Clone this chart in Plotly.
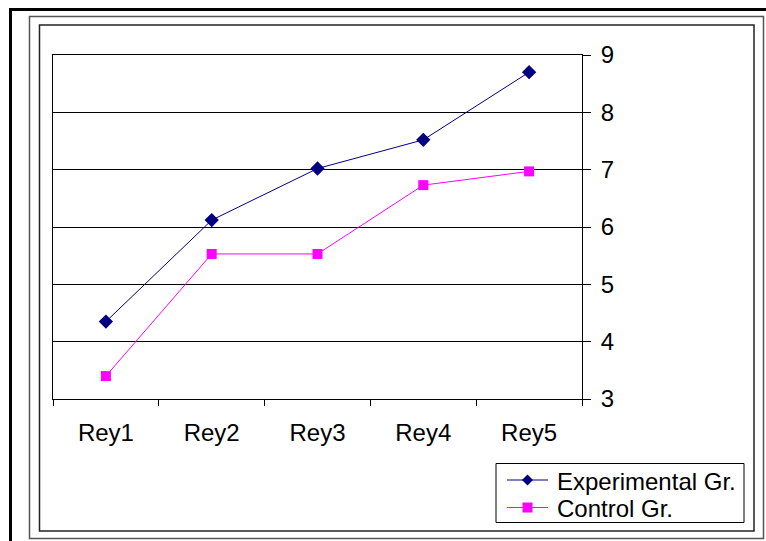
import plotly.graph_objects as go

# Scores per test round for the two groups
rounds = ["Rey1", "Rey2", "Rey3", "Rey4", "Rey5"]
experimental = [4.35, 6.12, 7.02, 7.52, 8.70]
control = [3.40, 5.53, 5.53, 6.73, 6.97]
y_ticks = [3, 4, 5, 6, 7, 8, 9]

W, H = 766, 541
L, R, T, B = 53, 582, 55, 399  # plot area in pixels


def px(x):
    return (x - L) / (R - L)


def py(y):
    return (B - y) / (B - T)


FONT = "Liberation Sans, Arial, sans-serif"
NAVY, MAGENTA = "#000080", "#FF00FF"

series = [
    dict(name="Experimental Gr.", y=experimental, color=NAVY, symbol="diamond", size=11),
    dict(name="Control Gr.", y=control, color=MAGENTA, symbol="square", size=10),
]

fig = go.Figure()
for s in series:
    fig.add_trace(go.Scatter(
        x=rounds, y=s["y"], name=s["name"],
        mode="lines+markers",
        line=dict(color=s["color"], width=1),
        marker=dict(symbol=s["symbol"], size=s["size"], color=s["color"]),
    ))

# Decorative frames around the chart
frames = [
    dict(x0=10.5, y0=9.5, x1=790, y1=560, color="black", width=3),
    dict(x0=29.5, y0=16.5, x1=763.5, y1=538.5, color="#555555", width=1.5),
    dict(x0=39.5, y0=25, x1=754, y1=531, color="#222222", width=1.5),
]
for f in frames:
    fig.add_shape(type="rect", xref="paper", yref="paper",
                  x0=px(f["x0"]), x1=px(f["x1"]), y0=py(f["y0"]), y1=py(f["y1"]),
                  line=dict(color=f["color"], width=f["width"]),
                  fillcolor="rgba(0,0,0,0)", layer="below")

# Legend box with a line sample, marker and label per series
fig.add_shape(type="rect", xref="paper", yref="paper",
              x0=px(496), x1=px(744), y0=py(463.5), y1=py(522.5),
              line=dict(color="black", width=1), fillcolor="white")
row_y = [480, 507.5]
for s, ry in zip(series, row_y):
    fig.add_shape(type="line", xref="paper", yref="paper",
                  x0=px(507), x1=px(548), y0=py(ry), y1=py(ry),
                  line=dict(color=s["color"], width=1))
    cx = 527.5
    if s["symbol"] == "diamond":
        h = 5.5
        path = (f"M {px(cx)} {py(ry - h)} L {px(cx + h)} {py(ry)} "
                f"L {px(cx)} {py(ry + h)} L {px(cx - h)} {py(ry)} Z")
    else:
        h = 5
        path = (f"M {px(cx - h)} {py(ry - h)} L {px(cx + h)} {py(ry - h)} "
                f"L {px(cx + h)} {py(ry + h)} L {px(cx - h)} {py(ry + h)} Z")
    fig.add_shape(type="path", xref="paper", yref="paper", path=path,
                  line=dict(color=s["color"], width=0), fillcolor=s["color"])
    fig.add_annotation(xref="paper", yref="paper", x=px(555), y=py(ry + 1),
                       xanchor="left", yanchor="middle", showarrow=False,
                       text=s["name"], font=dict(family=FONT, size=24, color="black"))

fig.update_layout(
    width=W, height=H,
    margin=dict(l=L, r=W - R, t=T, b=H - B, autoexpand=False),
    paper_bgcolor="white", plot_bgcolor="white",
    font=dict(family=FONT, size=24, color="black"),
    showlegend=False,
    xaxis=dict(
        type="category", range=[-0.5, 4.5],
        showgrid=False, showline=True, linecolor="black", linewidth=1, mirror=True,
        ticks="outside", tickson="boundaries", ticklen=6, tickcolor="black",
        tickfont=dict(family=FONT, size=24), zeroline=False,
        ticklabelstandoff=12,
    ),
    yaxis=dict(
        side="right", range=[3, 9], tickvals=y_ticks,
        showgrid=True, gridcolor="black", gridwidth=1,
        showline=True, linecolor="black", linewidth=1, mirror=True,
        ticks="outside", ticklen=8, tickcolor="black",
        tickfont=dict(family=FONT, size=24), zeroline=False,
        ticklabelstandoff=5,
    ),
)

fig.write_html("out.html")
